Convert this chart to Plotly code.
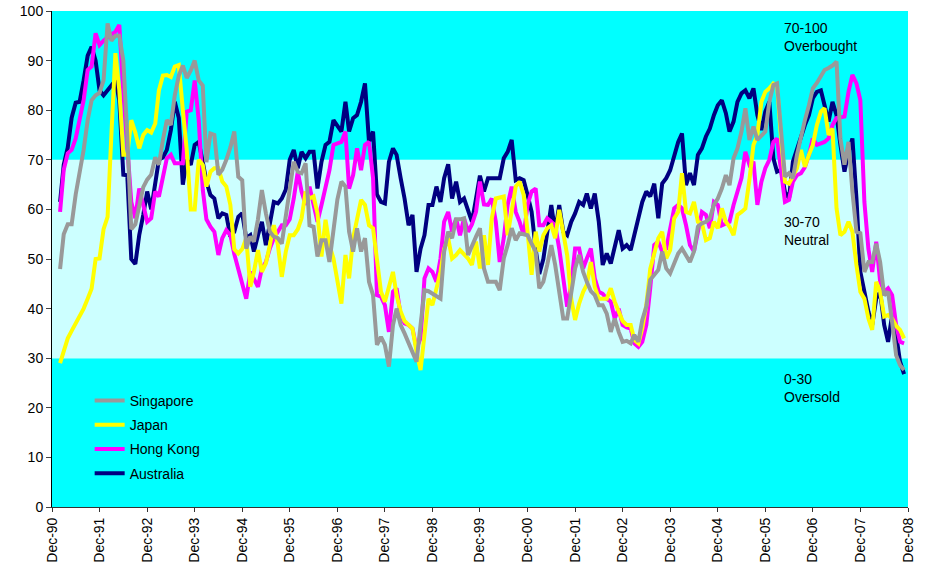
import pandas as pd
import plotly.graph_objects as go

# Monthly readings, Feb-1991 .. Nov-2008 (one row per calendar year)
singapore = [
    48, 55, 57, 57, 63, 67, 72, 78, 82, 83, 83.5,
    86, 97.5, 94, 95, 95, 90, 75, 56, 57, 61, 64.5, 66,
    67, 70.5, 69, 74, 78, 77, 83, 87, 89, 86.5, 88, 90,
    86, 85, 69.5, 75.3, 75, 67, 68, 70, 72.5, 75.7, 66.6, 65.9,
    52.1, 54.5, 53.5, 58, 63.9, 59.2, 55.5, 54.5, 54.2, 53.1, 59, 65,
    69.6, 67.6, 67.3, 69.3, 56.8, 56.5, 50.5, 53.8, 53.8, 49.4, 56.2, 62,
    65.6, 64.6, 55.5, 51.5, 56.2, 51.5, 54.2, 45.4, 42.7, 32.7, 34.3, 32.7,
    28.3, 36.7, 40, 36.7, 35, 33, 31.5, 29.3, 36.7, 43.7, 43.5, 43,
    42.5, 42, 51.5, 55.5, 54.2, 58, 58, 58.2, 50.8, 52.8, 54.5, 56.2,
    48.1, 45.4, 45.4, 45.4, 43.7, 50.1, 52.8, 56.2, 53.8, 55.2, 55, 54.8,
    53.1, 51.5, 44.1, 45.4, 48.8, 52.8, 48.8, 43.4, 38, 38, 42.7, 48.1,
    50.8, 47.4, 45.4, 43.5, 42.7, 40.7, 40.7, 39, 35.3, 38, 35.3, 33.3,
    33.5, 33, 34.7, 33.3, 37.7, 40.4, 45.8, 46.8, 47.8, 51.5, 48.1, 47.1,
    49, 51.1, 52.1, 50.8, 49.4, 51.5, 56.5, 57.2, 57.5, 58.2, 60.9, 62.2,
    64.2, 66.9, 64.9, 70.3, 72.3, 75.7, 80.4, 74, 76.7, 74, 75, 75.7,
    81.7, 85.1, 85.4, 75.7, 66.6, 67.3, 66.3, 71, 75, 78, 81, 84.4,
    85.5, 87, 88.1, 88.5, 89, 89.8, 74.3, 69, 73.6, 63.6, 55.5, 55.2,
    47.4, 49.4, 49.4, 53.1, 49.4, 42.7, 43.4, 37.3, 30.6, 28.6, 27.6,
]
japan = [
    29, 31.3, 34, 35.5, 37, 38.7, 40, 42, 44, 50, 50.1,
    56, 58.5, 75, 91.5, 84, 71, 71, 78, 75.5, 72.3, 75, 76,
    75.5, 77.3, 84, 87, 87.1, 86.7, 88.8, 89.1, 80, 72, 60, 60,
    70, 69, 64.6, 67.6, 68.3, 68.3, 65.6, 64.6, 60.9, 52, 51.1, 52,
    54.2, 44.4, 47.4, 51.8, 47.4, 49.1, 52.8, 56.8, 52.8, 46.4, 51.5, 54.8,
    54.8, 56, 58.2, 63.6, 62.2, 62.6, 59.2, 50.5, 57.9, 52.8, 50.1, 45.4,
    41, 50.8, 46.1, 54.2, 58.2, 61.9, 60.9, 56.8, 56.2, 50.1, 43.4, 41.4,
    44.1, 47.4, 42.7, 39.4, 37.5, 36.7, 36, 31.3, 27.6, 34.7, 42, 40.7,
    44.1, 47.4, 52, 54.2, 50.1, 50.8, 51.8, 51, 50.1, 48.8, 53.5, 48.1,
    54.8, 48.8, 58.2, 62.2, 62.4, 62.6, 54.8, 59.9, 64.6, 65.6, 62.9, 55.5,
    46.8, 55.5, 51.5, 54.8, 56.2, 56.8, 54.2, 59.9, 54.8, 50.8, 42, 37.7,
    41, 43.4, 44.8, 49.4, 44.4, 42, 42, 42, 44.1, 41.4, 39.4, 37.5,
    36.7, 36.7, 33.7, 33, 36, 40.7, 48, 51.5, 54.2, 55.5, 50.1, 51.8,
    58.2, 59.5, 67.3, 59.5, 59.2, 61.5, 57.5, 57.2, 53.8, 54.2, 57.5, 56.2,
    60.2, 57.5, 56.5, 54.8, 58.9, 59.5, 60.2, 66, 73, 75, 81.7, 83.7,
    84.4, 85.4, 85.1, 74.3, 65.6, 65.2, 66.9, 68.3, 72, 68.6, 71, 73,
    77, 79.7, 80.4, 75, 76.3, 60.2, 54.8, 55.5, 57.5, 55.5, 48.8, 43.4,
    42, 38, 35.7, 45.4, 43.4, 38.4, 38.7, 38, 36.5, 35.7, 34,
]
hong_kong = [
    59.5, 68, 71.3, 72, 74.3, 77.7, 82, 88.1, 88.8, 95.5, 93.1,
    94, 94.8, 95.3, 95.8, 97.2, 83.7, 72.3, 61.5, 58.2, 64.2, 60.9, 57.5,
    58.2, 63.6, 62.6, 66.3, 70.3, 71, 69.3, 69.3, 69.3, 79.7, 80, 86,
    78, 64, 58, 56.5, 55.5, 50.8, 54.2, 55.8, 54.8, 51, 48.1, 45.1,
    42, 47.4, 46.1, 44.4, 48.1, 49.4, 52.1, 54.2, 55.5, 56.8, 56.8, 58,
    62.2, 67.6, 63.6, 60.9, 64.6, 60.9, 57.5, 60.9, 64.6, 67.9, 73, 73.4,
    73.6, 75.7, 64.2, 66.9, 72.3, 67.9, 73, 73.6, 66.3, 42.7, 42.4, 40.7,
    35.3, 43.4, 44.1, 38.7, 37, 36.7, 36, 32, 34, 46.1, 48.1, 47.4,
    45.4, 50.1, 57.5, 59.5, 55.5, 58.2, 54.8, 58.2, 55.5, 57, 59.5, 65.6,
    61, 60.9, 62.2, 57.5, 49.4, 54.2, 60.9, 64.6, 59.5, 57.5, 54.8, 60.9,
    63.6, 64.2, 56.8, 56.8, 58.2, 57.5, 56.8, 52.1, 46.1, 40.4, 44.8, 52.1,
    52.1, 48.1, 50.1, 52.1, 46.1, 43.4, 43, 42, 41.4, 38, 40, 36.7,
    36.2, 36, 33, 32.3, 33.3, 36.7, 44.1, 52.8, 53.5, 51.5, 52.1, 56,
    60.2, 60.9, 60.2, 56.8, 52.8, 51.5, 55.5, 59.5, 58.9, 56.2, 61.5, 60.9,
    56.8, 57.2, 57.5, 60.9, 63.6, 66.3, 71.6, 69, 69.6, 60.9, 65.6, 68.3,
    70, 73.6, 74.3, 68, 61.5, 61.9, 65.6, 66.9, 67.3, 68.5, 71, 74.3,
    73, 73.3, 73.6, 74.3, 77, 78.4, 78.6, 78.7, 83.7, 87.1, 85.4, 82,
    61.5, 52, 47.4, 53.5, 45.4, 43.4, 44.1, 42.7, 36.7, 33.3, 33,
]
australia = [
    61.5, 69, 72.5, 78.5, 81.5, 81.7, 86, 91, 92.8, 90, 84,
    83, 84, 85, 86, 82, 67, 66.9, 50, 49, 54.8, 58.9, 63.6,
    60, 65, 70, 70.5, 72, 76, 81.7, 78.4, 65, 70, 69, 73,
    73.6, 69.6, 65.6, 62.9, 62.2, 58.2, 59.2, 58.9, 54.5, 55.5, 58.5, 59.2,
    54.2, 54.8, 51.5, 54.8, 57.5, 52.8, 56.8, 61.5, 61.2, 62.2, 64, 70,
    72, 68.3, 71.6, 70.3, 71.6, 71.6, 64.2, 69.6, 73, 73.6, 78, 77,
    75.7, 81.7, 75.7, 78.4, 79, 81.7, 85.4, 73.6, 75.7, 63, 61.5, 61.2,
    69.6, 72.3, 71, 66.3, 62.2, 56.8, 58.9, 47.4, 52.1, 54.8, 60.9, 60.9,
    64.6, 61.5, 66.3, 69.1, 62.2, 65.6, 61.5, 62.2, 59.5, 57.5, 62.2, 66.8,
    63.6, 66.3, 66.3, 66.3, 66.3, 70.3, 71.6, 74, 65.9, 66.3, 65.9, 62.9,
    59.5, 52, 47, 50, 55.5, 60.9, 55.5, 60.9, 55.5, 54.8, 57.5, 59.2,
    61.5, 60.9, 63.2, 60.2, 63.2, 57.5, 48.8, 51.1, 49.1, 52.1, 55.8, 52.1,
    52.8, 51.8, 54.8, 58.9, 61.5, 63.6, 62.6, 65.2, 58.2, 65.2, 66.3, 67.9,
    70.6, 73.6, 75.3, 64.9, 67.3, 64.9, 71, 72.3, 74.7, 76.3, 79, 81,
    82, 79.4, 75.7, 77.7, 81.7, 83.4, 84, 82.4, 84.4, 79, 76, 79.7,
    81.7, 70.3, 67.6, 68, 63.5, 62.2, 69.6, 72.3, 75, 77, 79, 82.4,
    83.7, 84, 81, 77.7, 81.7, 79, 73, 67.6, 71.6, 74.3, 62.2, 47.4,
    43.4, 39.4, 36.7, 42, 43.4, 36.7, 33.3, 38.7, 34.7, 29.3, 26.8,
]

months = pd.date_range("1991-02-01", periods=len(singapore), freq="MS")

tick_dates = pd.date_range("1990-12-01", "2008-12-01", freq="12MS")
tick_labels = ["Dec-%02d" % (d.year % 100) for d in tick_dates]

band_edges = [0, 30, 70, 100]
band_colors = ["#00FFFF", "#CCFFFF", "#00FFFF"]

# drawing order (bottom -> top) with legend rank
series = [
    ("Australia", australia, "#000080", 4),
    ("Hong Kong", hong_kong, "#FF00FF", 3),
    ("Japan", japan, "#FFFF00", 2),
    ("Singapore", singapore, "#999999", 1),
]

FONT = "Arial, 'Liberation Sans', sans-serif"

fig = go.Figure()
for name, vals, col, rank in series:
    fig.add_trace(go.Scatter(
        x=months, y=vals, name=name, mode="lines",
        line=dict(color=col, width=4), legendgroup=name, legendrank=rank,
    ))

shapes = []
for i, c in enumerate(band_colors):
    shapes.append(dict(type="rect", xref="paper", yref="y", x0=0, x1=1,
                       y0=band_edges[i], y1=band_edges[i + 1],
                       fillcolor=c, line=dict(width=0), layer="below"))

annos = [
    dict(text="70-100<br>Overbought", y=98.6),
    dict(text="30-70<br>Neutral", y=59.4),
    dict(text="0-30<br>Oversold", y=27.9),
]
annotations = [dict(xref="paper", yref="y", x=0.853, y=a["y"], text=a["text"],
                    showarrow=False, xanchor="left", yanchor="top", align="left",
                    font=dict(family=FONT, size=14, color="#000000"))
               for a in annos]

fig.update_layout(
    width=926, height=565,
    margin=dict(l=52, r=18, t=11, b=58, autoexpand=False),
    paper_bgcolor="white", plot_bgcolor="white",
    font=dict(family=FONT, size=14, color="#000000"),
    shapes=shapes, annotations=annotations,
    showlegend=True,
    legend=dict(x=0.044, y=0.246, xanchor="left", yanchor="top",
                bgcolor="rgba(0,0,0,0)", traceorder="grouped",
                tracegroupgap=3, font=dict(family=FONT, size=14)),
    xaxis=dict(range=[tick_dates[0], tick_dates[-1]], tickvals=list(tick_dates),
               ticktext=tick_labels, tickangle=-90, showgrid=False,
               showline=True, linecolor="#333333", linewidth=1,
               ticks="outside", ticklen=4, tickcolor="#333333",
               zeroline=False, automargin=False,
               tickfont=dict(family=FONT, size=14)),
    yaxis=dict(range=[0, 100], tickvals=list(range(0, 101, 10)),
               showgrid=False, showline=True, linecolor="#000000", linewidth=1,
               ticks="outside", ticklen=5, zeroline=False, automargin=False,
               tickfont=dict(family=FONT, size=14)),
)

fig.write_html("out.html", config={"displayModeBar": False},
               post_script="document.body.style.margin='0';document.body.style.padding='0';")
